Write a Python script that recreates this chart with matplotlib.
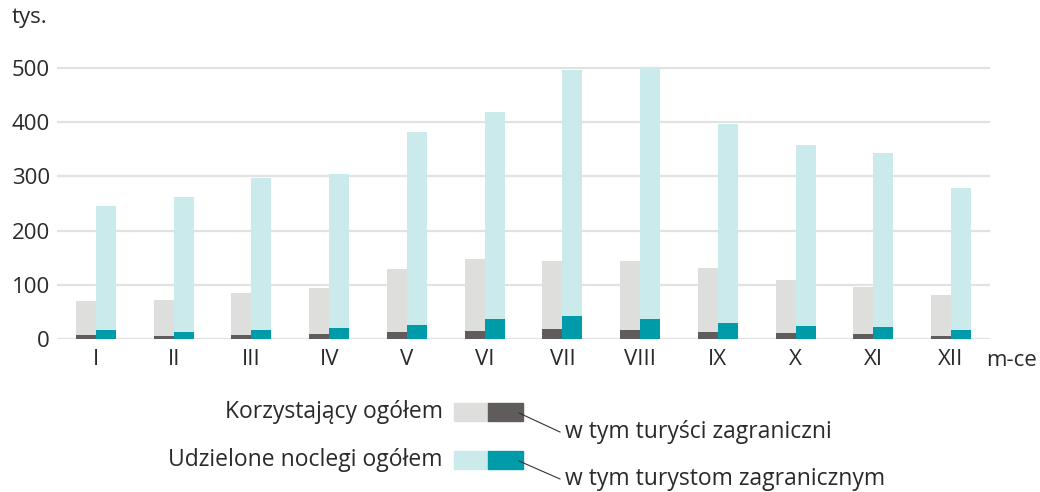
import matplotlib
matplotlib.use('Agg')
from matplotlib import pyplot as plt
from matplotlib.patches import Rectangle
from matplotlib.lines import Line2D
import numpy as np

plt.rcParams['font.family'] = ['Open Sans', 'DejaVu Sans']

months = ['I', 'II', 'III', 'IV', 'V', 'VI', 'VII', 'VIII', 'IX', 'X', 'XI', 'XII']
korzystajacy = [70, 72, 85, 94, 129, 148, 144, 144, 131, 109, 96, 81]
korzystajacy_zagr = [8, 5.5, 8, 9, 13, 15, 18, 17, 12, 11, 9, 6]
noclegi = [245, 262, 297, 304, 382, 419, 497, 501, 397, 358, 343, 279]
noclegi_zagr = [17, 13, 17, 20, 25, 37, 42, 37, 29, 24, 22, 17]

c_gray = '#dededd'
c_dark = '#605c5b'
c_cyan = '#cbeaec'
c_teal = '#009ba8'
c_text = '#2a2a2a'
fs = 16.5

fig = plt.figure(figsize=(10.4, 4.92), dpi=100)
ax = fig.add_axes([57 / 1040, 1 - 339 / 492, (990 - 57) / 1040, 276.4 / 492])

x = np.arange(len(months))
w = 0.257
ax.bar(x - w / 2, korzystajacy, w, color=c_gray, zorder=2)
ax.bar(x - w / 2, korzystajacy_zagr, w, color=c_dark, zorder=3)
ax.bar(x + w / 2, noclegi, w, color=c_cyan, zorder=2)
ax.bar(x + w / 2, noclegi_zagr, w, color=c_teal, zorder=3)

ax.set_xlim(-0.5, 11.5)
ax.set_ylim(0, 510)
ax.set_yticks([0, 100, 200, 300, 400, 500])
ax.yaxis.grid(True, color='#e2e2e2', linewidth=1.6, zorder=0)
ax.set_axisbelow(True)
for s in ax.spines.values():
    s.set_visible(False)
ax.tick_params(length=0, labelsize=16, colors=c_text)
ax.tick_params(axis='x', pad=7)
ax.tick_params(axis='y', pad=5)
ax.set_xticks(x)
ax.set_xticklabels(months)

fig.text(1012 / 1040, 1 - 361 / 492, 'm-ce', ha='center', va='center', fontsize=16,
         color=c_text)
fig.text(12 / 1040, 1 - 18 / 492, 'tys.', ha='left', va='center', fontsize=16,
         color=c_text)

# legend drawn by hand
rows = [('Korzystający ogółem', 'w tym turyści zagraniczni', c_gray, c_dark, 412, 432),
        ('Udzielone noclegi ogółem', 'w tym turystom zagranicznym', c_cyan, c_teal, 460, 479)]
for lab, sub, c1, c2, yc, ys in rows:
    fig.text(443 / 1040, 1 - yc / 492, lab, ha='right', va='center', fontsize=fs,
             color=c_text)
    fig.patches.append(Rectangle((454 / 1040, 1 - (yc + 9) / 492), 34 / 1040, 18 / 492,
                                 transform=fig.transFigure, color=c1))
    fig.patches.append(Rectangle((488 / 1040, 1 - (yc + 9) / 492), 35 / 1040, 18 / 492,
                                 transform=fig.transFigure, color=c2))
    fig.lines.append(Line2D([519 / 1040, 560 / 1040], [1 - (yc + 1) / 492, 1 - ys / 492],
                            transform=fig.transFigure, color='#333333', linewidth=0.8))
    fig.text(565 / 1040, 1 - ys / 492, sub, ha='left', va='center', fontsize=fs,
             color=c_text)

plt.savefig('out.png', dpi=100)
